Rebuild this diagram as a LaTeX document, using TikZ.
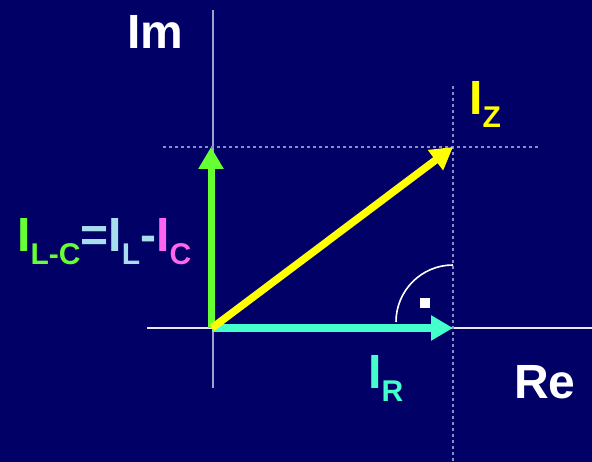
\documentclass[tikz,border=0pt]{standalone}
\usepackage{fontspec}
\setmainfont{Liberation Sans}
\usetikzlibrary{arrows.meta}
\definecolor{bg}{HTML}{000066}
\definecolor{cgreen}{HTML}{66FF33}
\definecolor{ccyan}{HTML}{44FFCC}
\definecolor{cyel}{HTML}{FFFF00}
\definecolor{clblue}{HTML}{A8DDEE}
\definecolor{cmag}{HTML}{FF66EE}
\definecolor{axisv}{HTML}{A0A0D0}
\definecolor{axish}{HTML}{E8E8F4}
\definecolor{dotc}{HTML}{8C8CCC}
\newcommand{\bigf}{\fontsize{48}{48}\selectfont\bfseries}
\newcommand{\subs}[1]{\raisebox{-13pt}{\fontsize{30}{30}\selectfont\bfseries #1}}
\begin{document}
\begin{tikzpicture}[x=1pt,y=1pt,
  lbl/.style={inner sep=0pt,anchor=base west,font=\bigf},
  vec/.style={line width=#1,-{Triangle[length=22pt,width=24pt]}},
  dotline/.style={dotc,line width=1.5pt,dash pattern=on 3pt off 3pt}]
\fill[bg] (0,0) rectangle (592,462);
\useasboundingbox (0,0) rectangle (592,462);
% axes
\coordinate (O) at (212,134);
\coordinate (vtop) at (213,452);
\coordinate (vbot) at (213,74);
\coordinate (hl) at (147,134);
\coordinate (hr) at (592,134);
\coordinate (R) at (453,134);
\coordinate (L) at (211,315);
\coordinate (Z) at (453,315);
\coordinate (dvt) at (453,376);
\coordinate (dvb) at (453,0);
\coordinate (dhl) at (163,315);
\coordinate (dhr) at (538,315);
\draw[axisv,line width=2pt] (vtop) -- (vbot);
\draw[axish,line width=1.5pt] (hl) -- (hr);
\draw[dotline] (dvt) -- (dvb);
\draw[dotline] (dhl) -- (dhr);
% right angle mark
\coordinate (arcs) at (396,140);
\draw[white,line width=1.6pt] (arcs) arc[start angle=180,end angle=90,radius=57];
\node[fill=white,minimum size=10pt,inner sep=0pt] (sq) at (425,159) {};
% vectors
\draw[vec=7pt,cgreen] (211,134) -- (L);
\draw[vec=8.5pt,ccyan] (O) -- (R);
\draw[vec=7.5pt,cyel] (O) -- (Z);
% labels
\node[lbl,white] (im) at (127,413) {Im};
\node[lbl,white] (re) at (514,63) {Re};
\node[lbl,cyel] (iz) at (469,347) {I\subs{Z}};
\node[lbl,ccyan] (ir) at (368,73) {I\subs{R}};
\node[lbl] (ilc) at (17,210) {\color{cgreen}I\subs{L-C}\color{clblue}=I\subs{L}-\color{cmag}I\subs{C}};
\end{tikzpicture}
\end{document}
